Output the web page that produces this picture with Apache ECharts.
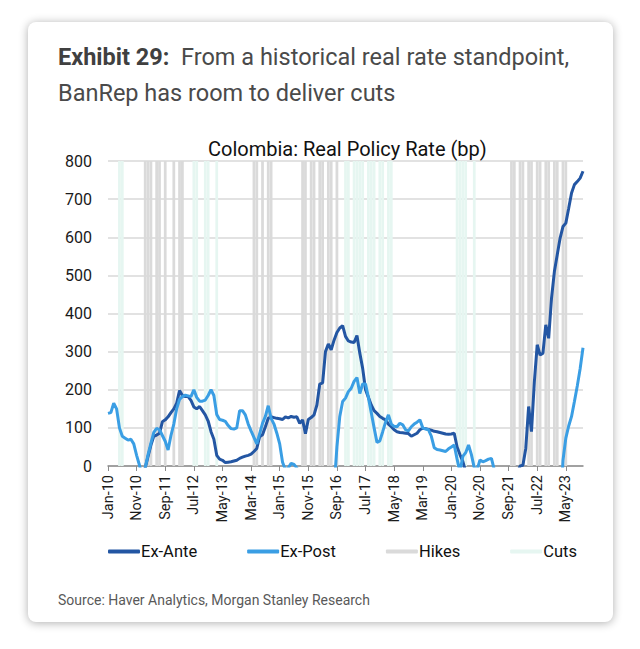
<!DOCTYPE html>
<html>
<head>
<meta charset="utf-8">
<script src="https://cdn.jsdelivr.net/npm/echarts@6/dist/echarts.min.js"></script>
<style>
  html, body { margin: 0; padding: 0; background: #fff; }
  #card {
    position: absolute; left: 28px; top: 22px; width: 585px; height: 600px;
    background: #fff; border-radius: 8px;
    box-shadow: 0 1px 10px rgba(0, 0, 0, 0.32);
  }
  #chart { position: absolute; left: 0; top: 0; width: 640px; height: 649px; }
</style>
</head>
<body>
<div id="card"></div>
<div id="chart"></div>
<script>
// monthly categories Jan-10 .. Nov-23
var monthNames = ['Jan', 'Feb', 'Mar', 'Apr', 'May', 'Jun', 'Jul', 'Aug', 'Sep', 'Oct', 'Nov', 'Dec'];
var categories = [];
for (var y = 2010; y <= 2023; y++) {
  for (var m = 0; m < 12; m++) {
    if (y === 2023 && m > 10) break;
    categories.push(monthNames[m] + '-' + String(y).slice(2));
  }
}

// real policy rate, bp (negative values fall below the axis and are clipped)
var exAnte = [
  -60, -55, -50, -50, -45, -45, -40, -40, -35, -35, -30, -30,
  -25, -5, 25, 55, 78, 81, 86, 116, 121, 129, 140, 150,
  165, 198, 185, 182, 182, 172, 155, 150, 156, 145, 134, 118,
  90, 70, 28, 18, 15, 9, 10, 11, 13, 15, 20, 23,
  26, 28, 31, 38, 46, 77, 82, 103, 125, 129, 127, 125,
  124, 122, 129, 126, 130, 128, 129, 112, 121, 85, 122, 127,
  134, 160, 215, 218, 300, 320, 305, 330, 350, 362, 368, 340,
  328, 325, 324, 342, 296, 256, 200, 180, 160, 145, 138, 130,
  125, 121, 110, 103, 95, 90, 88, 87, 86, 85, 78, 82,
  86, 95, 99, 98, 96, 94, 91, 90, 88, 86, 84, 83,
  84, 86, 50, 30, 12, -15, -60, -80, -100, -120, -130, -140,
  -150, -160, -170, -180, -170, -160, -150, -140, -120, -100, -60, -20,
  0, 2, 46, 156, 90, 221, 318, 291, 296, 370, 335, 440,
  510, 554, 598, 628, 637, 676, 716, 738, 746, 755, 773
];
var exPost = [
  138, 140, 165, 150, 100, 78, 73, 68, 70, 58, 28, 2,
  -30, -5, 30, 60, 88, 99, 95, 80, 65, 42, 80, 110,
  150, 175, 182, 186, 184, 182, 200, 180, 170, 170, 173, 185,
  200, 185, 135, 122, 120, 117, 106, 98, 97, 100, 145, 145,
  134, 110, 92, 75, 58, 85, 112, 130, 158, 125, 110, 86,
  58, 10, -10, -5, 7, 4, -5, -30, -80, -120, -150, -180,
  -200, -220, -230, -200, -170, -140, -110, -60, 50, 130, 169, 178,
  195, 204, 222, 232, 190, 215, 215, 180, 140, 100, 62, 66,
  90, 115, 134, 110, 104, 103, 112, 108, 95, 92, 103, 110,
  115, 121, 100, 97, 95, 78, 48, 43, 42, 40, 38, 45,
  50, 55, 18, -15, 25, 35, 55, 30, -5, -10, 16, 11,
  14, 18, 20, -10, -60, -120, -180, -220, -260, -300, -340, -380,
  -420, -450, -480, -500, -520, -540, -560, -580, -560, -520, -480, -420,
  -340, -260, -150, 15, 73, 105, 130, 169, 210, 255, 310
];

// months shaded as policy-rate moves
var hikeMonths = [
  'Feb-11', 'Mar-11', 'Apr-11', 'Jun-11', 'Jul-11', 'Sep-11', 'Dec-11', 'Feb-12', 'Mar-12',
  'Apr-14', 'May-14', 'Jul-14', 'Sep-14', 'Oct-14',
  'Sep-15', 'Oct-15', 'Dec-15', 'Jan-16', 'Mar-16', 'Apr-16', 'Jun-16', 'Jul-16', 'Sep-16',
  'Oct-21', 'Nov-21', 'Jan-22', 'Feb-22', 'Apr-22', 'May-22', 'Jul-22', 'Aug-22',
  'Oct-22', 'Nov-22', 'Jan-23', 'Feb-23', 'Apr-23', 'May-23'
];
var cutMonths = [
  'May-10', 'Jun-10', 'Jul-12', 'Aug-12', 'Nov-12', 'Dec-12', 'Mar-13',
  'Dec-16', 'Jan-17', 'Mar-17', 'Apr-17', 'May-17', 'Jun-17', 'Aug-17', 'Sep-17', 'Oct-17',
  'Dec-17', 'Jan-18', 'Mar-18', 'Apr-18',
  'Mar-20', 'Apr-20', 'May-20', 'Jun-20', 'Sep-20'
];

var yMin = 0, yMax = 800, yStep = 100;

function shade(list) {
  return categories.map(function (c) { return list.indexOf(c) >= 0 ? yMax : '-'; });
}

var chart = echarts.init(document.getElementById('chart'), null, { renderer: 'svg' });
var font = 'Roboto, "Liberation Sans", sans-serif';

chart.setOption({
  animation: false,
  textStyle: { fontFamily: font },
  title: [
    {
      left: 53, top: 34,
      text: '{b|Exhibit 29:}{n|  From a historical real rate standpoint,}\n{n|BanRep has room to deliver cuts}',
      textStyle: {
        fontWeight: 'normal',
        rich: {
          b: { fontFamily: font, fontSize: 23.5, fontWeight: 'bold', color: '#404040', lineHeight: 36 },
          n: { fontFamily: font, fontSize: 23.5, fontWeight: 'normal', color: '#4a4a4a', lineHeight: 36 }
        }
      }
    },
    {
      text: 'Colombia: Real Policy Rate (bp)',
      left: 203, top: 134,
      textStyle: { fontFamily: font, fontSize: 20, fontWeight: 'normal', color: '#111' }
    },
    {
      text: 'Source: Haver Analytics, Morgan Stanley Research',
      left: 53, top: 588,
      textStyle: { fontFamily: font, fontSize: 14, fontWeight: 'normal', color: '#595959' }
    }
  ],
  legend: {
    left: 103, top: 538,
    itemGap: 50, itemWidth: 32, itemHeight: 4,
    textStyle: { fontFamily: font, fontSize: 16.5, color: '#111', padding: [0, 0, 0, -4] },
    data: [
      { name: 'Ex-Ante', icon: 'roundRect' },
      { name: 'Ex-Post', icon: 'roundRect' },
      { name: 'Hikes', icon: 'roundRect' },
      { name: 'Cuts', icon: 'roundRect' }
    ]
  },
  grid: { left: 108, right: 57, top: 161, bottom: 183 },
  xAxis: {
    type: 'category', data: categories, boundaryGap: false,
    axisLine: { lineStyle: { color: '#8c8c8c', width: 1.5 } },
    axisTick: { interval: 9, length: 5, lineStyle: { color: '#8c8c8c' } },
    axisLabel: { interval: 9, rotate: 90, fontSize: 14.5, color: '#1a1a1a', margin: 9 },
    splitLine: { show: false }
  },
  yAxis: {
    type: 'value', min: yMin, max: yMax, interval: yStep,
    axisLine: { show: false }, axisTick: { show: false },
    axisLabel: { fontSize: 16, color: '#1a1a1a', margin: 16 },
    splitLine: { lineStyle: { color: '#d9d9d9', width: 1.5 } }
  },
  series: [
    {
      name: 'Hikes', type: 'bar', data: shade(hikeMonths),
      itemStyle: { color: '#dadada' }, barGap: '-100%', barCategoryGap: '4%', z: 1
    },
    {
      name: 'Cuts', type: 'bar', data: shade(cutMonths),
      itemStyle: { color: '#e6f6f1' }, barGap: '-100%', barCategoryGap: '4%', z: 1
    },
    {
      name: 'Ex-Ante', type: 'line', data: exAnte, showSymbol: false, symbol: 'none',
      lineStyle: { color: '#2356a3', width: 3 }, itemStyle: { color: '#2356a3' }, z: 3
    },
    {
      name: 'Ex-Post', type: 'line', data: exPost, showSymbol: false, symbol: 'none',
      lineStyle: { color: '#3a9ee4', width: 3 }, itemStyle: { color: '#3a9ee4' }, z: 3
    }
  ]
});
</script>
</body>
</html>
